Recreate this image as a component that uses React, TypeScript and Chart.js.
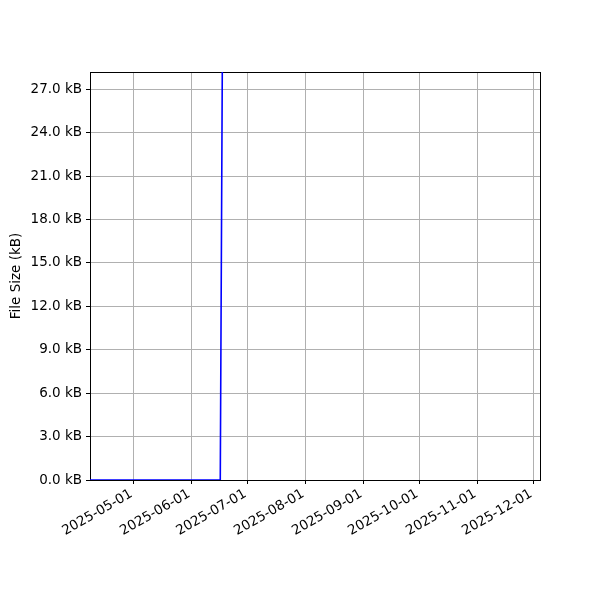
import React, { useEffect, useRef } from "react";
import { Chart, registerables } from "chart.js";

Chart.register(...registerables);

// ---- data ----
const pointDates: string[] = ["2025-04-01T00:00:00Z", "2025-06-16T12:00:00Z", "2025-06-26T12:00:00Z"];
const fileSizesKB: number[] = [0, 0, 263];
const xTickDates: string[] = [
  "2025-05-01", "2025-06-01", "2025-07-01", "2025-08-01",
  "2025-09-01", "2025-10-01", "2025-11-01", "2025-12-01",
];
const yTickValues: number[] = [0, 3, 6, 9, 12, 15, 18, 21, 24, 27];
const xRange: string[] = ["2025-04-07T19:00:00Z", "2025-12-04T14:00:00Z"];
const yRange: number[] = [0, 28.2];

const DAY = 86400000;
const toDay = (s: string) => Date.parse(s.length === 10 ? s + "T00:00:00Z" : s) / DAY;
const fmtDay = (d: number) => new Date(Math.round(d) * DAY).toISOString().slice(0, 10);

const FONT = "'DejaVu Sans', sans-serif";
const FS = 13.5;

const boxPlugin = {
  id: "box",
  beforeDatasetsDraw(chart: any) {
    const { ctx, chartArea: a } = chart;
    ctx.save();
    ctx.strokeStyle = "#000";
    ctx.lineWidth = 1;
    ctx.strokeRect(Math.round(a.left) + 0.5, Math.round(a.top) + 0.5, Math.round(a.right - a.left), Math.round(a.bottom - a.top));
    ctx.restore();
  },
};

export default function App() {
  const ref = useRef<HTMLCanvasElement>(null);
  useEffect(() => {
    if (!ref.current) return;
    const data = pointDates.map((d, i) => ({ x: toDay(d), y: fileSizesKB[i] }));
    const chart = new Chart(ref.current, {
      type: "line",
      data: {
        datasets: [
          {
            data,
            borderColor: "#0000ff",
            borderWidth: 1.6,
            pointRadius: 0,
            tension: 0,
            fill: false,
          },
        ],
      },
      plugins: [boxPlugin],
      options: {
        animation: false,
        responsive: false,
        devicePixelRatio: 1,
        layout: { padding: { left: 0, top: 72, right: 60, bottom: 0 } },
        plugins: { legend: { display: false }, tooltip: { enabled: false } },
        scales: {
          x: {
            type: "linear",
            min: toDay(xRange[0]),
            max: toDay(xRange[1]),
            afterBuildTicks: (s: any) => {
              s.ticks = xTickDates.map((d) => ({ value: toDay(d) }));
            },
            afterFit: (s: any) => {
              s.height = 120;
            },
            ticks: {
              autoSkip: false,
              minRotation: 30,
              maxRotation: 30,
              padding: 2,
              labelOffset: -2,
              color: "#000",
              font: { family: FONT, size: FS },
              callback: (v: any) => fmtDay(Number(v)),
            },
            grid: { color: "#b0b0b0", lineWidth: 1, tickColor: "#000", tickLength: 4 },
            border: { color: "#000", width: 1 },
          },
          y: {
            type: "linear",
            min: yRange[0],
            max: yRange[1],
            afterBuildTicks: (s: any) => {
              s.ticks = yTickValues.map((v) => ({ value: v }));
            },
            afterFit: (s: any) => {
              s.width = 90;
            },
            title: {
              display: true,
              text: "File Size (kB)",
              color: "#000",
              font: { family: FONT, size: FS },
              padding: { top: 8, bottom: 0 },
            },
            ticks: {
              padding: 4,
              color: "#000",
              font: { family: FONT, size: FS },
              callback: (v: any) => Number(v).toFixed(1) + " kB",
            },
            grid: { color: "#b0b0b0", lineWidth: 1, tickColor: "#000", tickLength: 4 },
            border: { color: "#000", width: 1 },
          },
        },
      },
    });
    return () => chart.destroy();
  }, []);
  return (
    <div style={{ position: "absolute", left: 0, top: 0, width: 600, height: 600, background: "#fff" }}>
      <canvas ref={ref} width={600} height={600} style={{ width: 600, height: 600 }} />
    </div>
  );
}
